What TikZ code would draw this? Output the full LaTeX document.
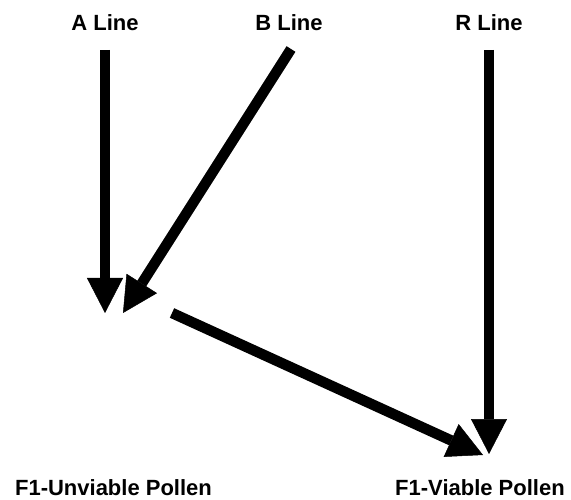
\documentclass[tikz,border=0pt]{standalone}
\usepackage{fontspec}
\setmainfont{Liberation Sans}
\usetikzlibrary{arrows.meta}

\begin{document}
\begin{tikzpicture}[x=1pt,y=-1pt]
      \useasboundingbox (0,0) rectangle (571,500);

      \begin{scope}[every node/.style={font=\bfseries\fontsize{22}{26}\selectfont, inner sep=0pt}]
        \node (A)  at (105,22.5) {A Line};
        \node (B)  at (289,22.5) {B Line};
        \node (R)  at (489,22.5) {R Line};
        \node (U)  at (113.5,488) {F1-Unviable Pollen};
        \node (V)  at (480,488) {F1-Viable Pollen};
      \end{scope}

      \coordinate (a1) at (105,50);
      \coordinate (a2) at (105,313);
      \coordinate (b1) at (291,49);
      \coordinate (b2) at (123,313);
      \coordinate (r1) at (489,50);
      \coordinate (r2) at (489,454);
      \coordinate (u1) at (172,313);
      \coordinate (u2) at (483,455);

      \begin{scope}[every edge/.style={draw, line width=10.5pt,
          -{Triangle[length=35pt,width=36pt,line width=0.5pt]}}]
        \path (a1) edge (a2);
        \path (b1) edge (b2);
        \path (r1) edge (r2);
        \path (u1) edge (u2);
      \end{scope}

    \end{tikzpicture}
\end{document}
